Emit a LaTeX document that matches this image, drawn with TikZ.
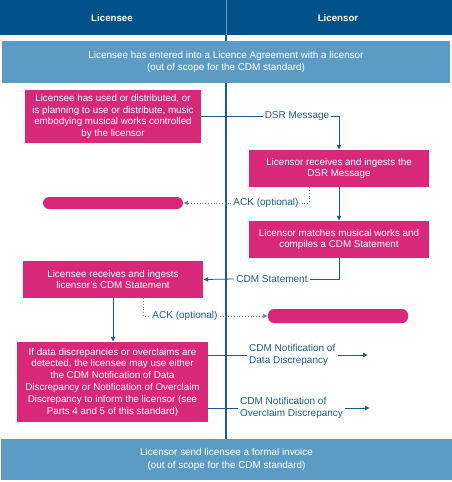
\documentclass[tikz,border=0pt]{standalone}
\usepackage{fontspec}
\setmainfont{Liberation Sans}
\usetikzlibrary{arrows.meta}
\definecolor{hdrblue}{HTML}{02518A}
\definecolor{bandblue}{HTML}{5C9CC4}
\definecolor{pinkbox}{HTML}{D7287A}
\definecolor{lineblue}{HTML}{1B5C8E}
\tikzset{
  hdrtext/.style={text=white,font=\fontsize{9.7}{11}\selectfont\bfseries},
  band/.style={fill=bandblue,text=white,align=center,inner sep=0pt,font=\fontsize{9.9}{12.4}\selectfont},
  pbox/.style={fill=pinkbox,text=white,align=center,inner sep=0pt,font=\fontsize{9.8}{11.8}\selectfont},
  pill/.style={fill=pinkbox,rounded corners=6pt,inner sep=0pt},
  lbl/.style={text=lineblue,inner sep=2pt,font=\fontsize{10}{11.5}\selectfont},
  conn/.style={draw=lineblue,line width=0.8pt},
  dconn/.style={draw=lineblue!70,line width=0.8pt,dotted},
  tip/.style={-{Latex[length=5pt,width=5pt]}}
}
\begin{document}
\begin{tikzpicture}[x=1pt,y=-1pt]
\useasboundingbox (0,0) rectangle (452,482);
% header
\fill[hdrblue] (0,0) rectangle (452,35);
\draw[bandblue,line width=1pt] (226,0) -- (226,35);
\node[hdrtext] (h1) at (112,18) {Licensee};
\node[hdrtext] (h2) at (338,18) {Licensor};
% timeline
\coordinate (tl0) at (226,35);
\coordinate (tl1) at (226,439);
\draw[lineblue,line width=1.6pt] (tl0) -- (tl1);
% bands
\node[band,minimum width=448pt,minimum height=42pt] (top) at (226,62)
  {Licensee has entered into a Licence Agreement with a licensor\\(out of scope for the CDM standard)};
\node[band,minimum width=451pt,minimum height=41pt] (bot) at (226.5,459.5)
  {Licensor send licensee a formal invoice\\(out of scope for the CDM standard)};
% pink boxes
\node[pbox,minimum width=176pt,minimum height=53pt] (b1) at (113,116.5)
  {Licensee has used or distributed, or\\is planning to use or distribute, music\\embodying musical works controlled\\by the licensor};
\node[pbox,minimum width=180pt,minimum height=37pt] (b2) at (339,168.5)
  {Licensor receives and ingests the\\DSR Message};
\node[pbox,minimum width=180pt,minimum height=37pt] (b3) at (339,239.5)
  {Licensor matches musical works and\\compiles a CDM Statement};
\node[pbox,minimum width=180pt,minimum height=37pt] (b4) at (113,279.5)
  {Licensee receives and ingests\\licensor's CDM Statement};
\node[pbox,minimum width=191pt,minimum height=80pt] (b5) at (112.5,382)
  {If data discrepancies or overclaims are\\detected, the licensee may use either\\the CDM Notification of Data\\Discrepancy or Notification of Overclaim\\Discrepancy to inform the licensor (see\\Parts 4 and 5 of this standard)};
\node[pill,minimum width=140pt,minimum height=12pt] (p1) at (113,203) {};
\node[pill,minimum width=140pt,minimum height=14pt] (p2) at (338,316) {};
% labels
\node[lbl] (dsr) at (297,116.5) {DSR Message};
\node[lbl] (ack1) at (266,203) {ACK (optional)};
\node[lbl] (cdm) at (272,279) {CDM Statement};
\node[lbl] (ack2) at (185,316) {ACK (optional)};
\node[lbl,align=left,anchor=west] (n1) at (247,355) {CDM Notification of\\Data Discrepancy};
\node[lbl,align=left,anchor=west] (n2) at (238,408) {CDM Notification of\\Overclaim Discrepancy};
% connectors
\draw[conn] (b1.east) -- (dsr.west);
\draw[conn,tip] (dsr.east) -| (b2.north);
\coordinate (a1) at (309,203);
\draw[dconn] (b2.south -| a1) -- (a1) -- (ack1.east);
\draw[dconn,tip] (ack1.west) -- (p1.east);
\draw[conn,tip] (b2.south) -- (b3.north);
\draw[conn] (b3.south) |- (cdm.east);
\draw[conn,tip] (cdm.west) -- (b4.east);
\coordinate (a2) at (143,316);
\draw[dconn] (b4.south -| a2) -- (a2) -- (ack2.west);
\draw[dconn,tip] (ack2.east) -- (p2.west);
\draw[conn,tip] (b4.south) -- (b4.south |- b5.north);
\draw[conn] (b5.east |- n1.west) -- (n1.west);
\coordinate (e1) at (368,355);
\draw[conn,tip] (n1.east |- e1) -- (e1);
\draw[conn] (b5.east |- n2.west) -- (n2.west);
\coordinate (e2) at (370,408);
\draw[conn,tip] (n2.east |- e2) -- (e2);
\end{tikzpicture}
\end{document}
